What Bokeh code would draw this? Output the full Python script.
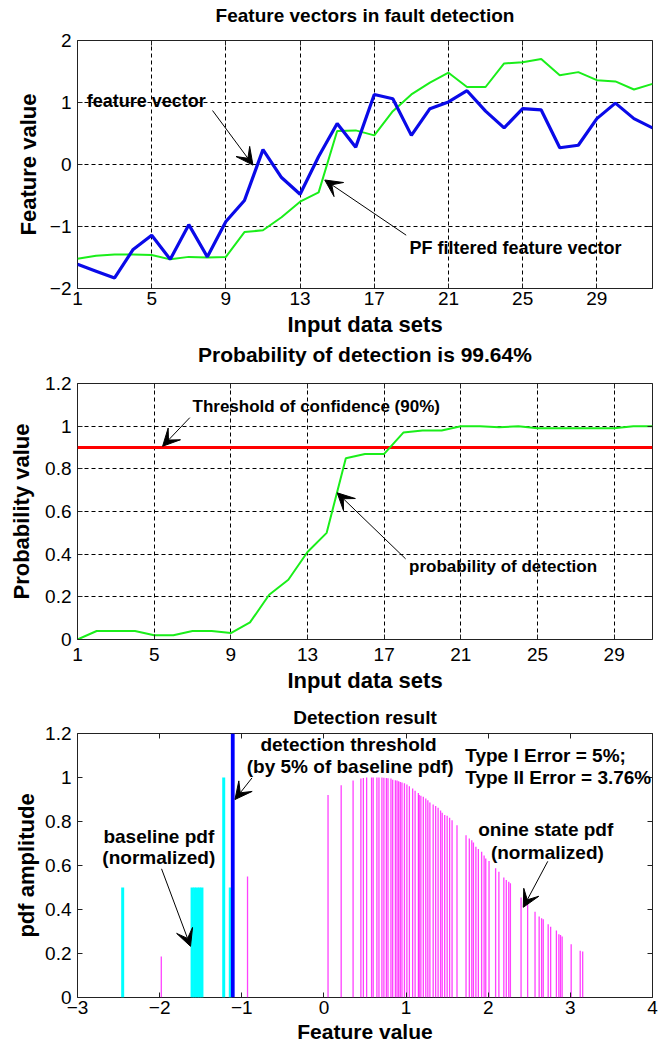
from bokeh.plotting import figure
from bokeh.layouts import column
from bokeh.models import FixedTicker, LinearAxis, Range1d, Arrow, VeeHead, Label
from bokeh.embed import file_html
from bokeh.resources import INLINE

# ---------------- data ----------------
# Panel 1: feature vectors
sets_1 = list(range(1, 33))
feature_vector = [-1.61, -1.72, -1.83, -1.37, -1.14, -1.53, -0.97, -1.49, -0.92, -0.58,
                  0.24, -0.21, -0.48, 0.13, 0.66, 0.28, 1.13, 1.06, 0.47, 0.90,
                  1.01, 1.19, 0.86, 0.59, 0.90, 0.88, 0.27, 0.31, 0.74, 0.99,
                  0.74, 0.59]
pf_filtered = [-1.52, -1.47, -1.45, -1.45, -1.46, -1.53, -1.49, -1.50, -1.49, -1.09,
               -1.06, -0.85, -0.60, -0.45, 0.54, 0.55, 0.47, 0.86, 1.13, 1.32,
               1.48, 1.25, 1.25, 1.63, 1.65, 1.70, 1.44, 1.49, 1.36, 1.34,
               1.21, 1.30]

# Panel 2: probability of detection
sets_2 = list(range(1, 32))
prob_detection = [0.00, 0.04, 0.04, 0.04, 0.02, 0.02, 0.04, 0.04, 0.03, 0.08,
                  0.21, 0.28, 0.41, 0.50, 0.85, 0.87, 0.87, 0.97, 0.98, 0.98,
                  1.00, 1.00, 0.995, 1.00, 0.99, 0.99, 0.99, 0.99, 0.99, 1.00,
                  1.00]
threshold_x = [1, 31]
threshold_conf = [0.9, 0.9]

# Panel 3: detection result
baseline_x = [-2.45, -1.605, -1.575, -1.545, -1.515, -1.485, -1.22, -1.14]
baseline_h = [0.5, 0.5, 0.5, 0.5, 0.5, 0.5, 1.0, 0.5]
online_x = [-1.98, -0.93, 0.05, 0.21, 0.355, 0.45, 0.48, 0.52, 0.58, 0.60, 0.645, 0.67,
            0.706, 0.73, 0.76, 0.78, 0.816, 0.837, 0.87, 0.89, 0.91, 0.93, 0.95,
            0.98, 1.01, 1.04, 1.08, 1.11, 1.15, 1.16, 1.18, 1.21, 1.24, 1.265,
            1.29, 1.33, 1.36, 1.39, 1.42, 1.44, 1.47, 1.50, 1.53, 1.56, 1.62,
            1.73, 1.77, 1.80, 1.82, 1.85, 1.88, 1.92, 1.95, 1.97, 2.01, 2.09,
            2.13, 2.19, 2.22, 2.25, 2.27, 2.40, 2.48, 2.57, 2.62, 2.65, 2.67,
            2.73, 2.76, 2.83, 2.86, 2.88, 2.90, 3.01, 3.12, 3.15]
online_h = [0.186, 0.55, 0.92, 0.965, 0.986, 0.995, 0.998, 1.0, 1.0, 1.0, 1.0, 1.0,
            1.0, 0.999, 0.998, 0.997, 0.995, 0.99, 0.988, 0.986, 0.983, 0.98, 0.977,
            0.974, 0.968, 0.96, 0.95, 0.94, 0.93, 0.92, 0.917, 0.912, 0.905, 0.897,
            0.886, 0.877, 0.87, 0.862, 0.85, 0.84, 0.83, 0.826, 0.817, 0.806, 0.783,
            0.738, 0.723, 0.715, 0.705, 0.685, 0.675, 0.663, 0.645, 0.632, 0.62, 0.587,
            0.572, 0.545, 0.534, 0.526, 0.519, 0.455, 0.428, 0.39, 0.368, 0.36, 0.356,
            0.333, 0.322, 0.304, 0.287, 0.284, 0.277, 0.242, 0.212, 0.209]
det_threshold_x = [-1.11, -1.11]
det_threshold_y = [0.0, 1.2]

ticks_sets = [1, 5, 9, 13, 17, 21, 25, 29]
ticks_feat = [-2, -1, 0, 1, 2]
ticks_prob = [0, 0.2, 0.4, 0.6, 0.8, 1.0, 1.2]
ticks_fx = [-3, -2, -1, 0, 1, 2, 3, 4]

titles = ["Feature vectors in fault detection",
          "Probability of detection is 99.64%",
          "Detection result"]

FONT = "Liberation Sans"
BLUE = "#0a0ae8"
GREEN = "#1aee1a"


def mirror_axis(t, title=None, size="19px", standoff=0):
    a = LinearAxis(ticker=FixedTicker(ticks=t), axis_line_color=None,
                   major_tick_in=5, major_tick_out=0,
                   major_tick_line_color="#222222",
                   minor_tick_line_color=None,
                   major_label_text_font_size="1px", major_label_text_color=None,
                   major_label_standoff=0)
    if title:
        a.axis_label = title
        a.axis_label_text_font = FONT
        a.axis_label_text_font_size = size
        a.axis_label_text_font_style = "bold"
        a.axis_label_text_color = "black"
        a.axis_label_standoff = standoff
    return a


def style(p, xt, yt, grid, xlabel, ylabel, xl_stand, xa_stand, ya_stand,
          title, title_size, title_standoff, xa_size="22px"):
    p.outline_line_color = "#222222"
    p.outline_line_width = 1
    p.xaxis.ticker = FixedTicker(ticks=xt)
    p.yaxis.ticker = FixedTicker(ticks=yt)
    p.xaxis.axis_label = xlabel
    p.yaxis.axis_label = ylabel
    for ax in (p.xaxis[0], p.yaxis[0]):
        ax.axis_line_color = None
        ax.major_tick_in = 5
        ax.major_tick_out = 0
        ax.minor_tick_line_color = None
        ax.major_tick_line_color = "#222222"
        ax.major_label_text_font = FONT
        ax.major_label_text_font_size = "19px"
        ax.major_label_text_color = "black"
        ax.axis_label_text_font = FONT
        ax.axis_label_text_font_size = "22px"
        ax.axis_label_text_font_style = "bold"
        ax.axis_label_text_color = "black"
    p.xaxis.axis_label_text_font_size = xa_size
    p.xaxis.major_label_standoff = xl_stand
    p.xaxis.axis_label_standoff = xa_stand
    p.yaxis.major_label_standoff = 6
    p.yaxis.axis_label_standoff = ya_stand
    # mirrored ticks; the top one carries the panel title
    p.add_layout(mirror_axis(yt), "right")
    p.add_layout(mirror_axis(xt, title, title_size, title_standoff), "above")
    if grid:
        p.xgrid.ticker = FixedTicker(ticks=xt)
        p.ygrid.ticker = FixedTicker(ticks=yt)
        for g in (p.xgrid[0], p.ygrid[0]):
            g.grid_line_color = "black"
            g.grid_line_dash = "4 3"
            g.grid_line_width = 1
    else:
        p.xgrid.grid_line_color = None
        p.ygrid.grid_line_color = None


def label(p, x, y, text, align="left", size="18px"):
    p.add_layout(Label(x=x, y=y, text=text, text_font=FONT, text_font_size=size,
                       text_font_style="bold", text_align=align,
                       text_baseline="middle", text_color="black"))


def arrow(p, x0, y0, x1, y1):
    p.add_layout(Arrow(end=VeeHead(size=17, fill_color="black", line_color="black"),
                       x_start=x0, y_start=y0, x_end=x1, y_end=y1,
                       line_color="black", line_width=1))


common = dict(output_backend="svg", toolbar_location=None, frame_width=575,
              min_border_left=77, min_border_right=6, background_fill_color="white",
              border_fill_color="white", title=None)

# ---------- panel 1 ----------
p1 = figure(frame_height=248, min_border_top=40, min_border_bottom=50,
            x_range=Range1d(1, 32), y_range=Range1d(-2, 2), **common)
style(p1, ticks_sets, ticks_feat, True, "Input data sets", "Feature value", 3, 4, 6,
      titles[0], "19px", 15)
p1.line(sets_1, pf_filtered, line_color=GREEN, line_width=2)
p1.line(sets_1, feature_vector, line_color=BLUE, line_width=3.2)
label(p1, 1.5, 1.02, "feature vector")
arrow(p1, 8.28, 0.87, 10.46, -0.01)
label(p1, 18.9, -1.34, "PF filtered feature vector")
arrow(p1, 18.72, -1.14, 14.33, -0.25)

# ---------- panel 2 ----------
p2 = figure(frame_height=256, min_border_top=43, min_border_bottom=64,
            x_range=Range1d(1, 31), y_range=Range1d(0, 1.2), **common)
style(p2, ticks_sets, ticks_prob, True, "Input data sets", "Probability value", 8, 4, 8,
      titles[1], "21px", 18)
p2.line(threshold_x, threshold_conf, line_color="#ff0000", line_width=3)
p2.line(sets_2, prob_detection, line_color=GREEN, line_width=2)
label(p2, 7.0, 1.094, "Threshold of confidence (90%)", size="17px")
arrow(p2, 6.86, 1.04, 5.44, 0.906)
label(p2, 18.3, 0.34, "probability of detection", size="17px")
arrow(p2, 18.12, 0.378, 14.55, 0.6875)

# ---------- panel 3 ----------
p3 = figure(frame_height=264, min_border_top=30, min_border_bottom=44,
            x_range=Range1d(-3, 4), y_range=Range1d(0, 1.2), **common)
style(p3, ticks_fx, ticks_prob, False, "Feature value", "pdf amplitude", 3, 3, 3,
      titles[2], "19px", 6, xa_size="21px")
p3.segment(x0=online_x, y0=[0] * len(online_x), x1=online_x, y1=online_h,
           line_color="#ff00ff", line_width=1.3, line_alpha=0.75)
p3.segment(x0=baseline_x, y0=[0] * len(baseline_x), x1=baseline_x, y1=baseline_h,
           line_color="#00ffff", line_width=3)
p3.line(det_threshold_x, det_threshold_y, line_color="#0000ff", line_width=3.8)
label(p3, 0.30, 1.15, "detection threshold", align="center", size="19px")
label(p3, 0.32, 1.05, "(by 5% of baseline pdf)", align="center", size="19px")
arrow(p3, -0.876, 0.998, -1.083, 0.90)
label(p3, 1.72, 1.10, "Type I Error = 5%;", size="19px")
label(p3, 1.72, 1.00, "Type II Error = 3.76%", size="19px")
label(p3, -2.01, 0.734, "baseline pdf", align="center", size="19px")
label(p3, -2.01, 0.638, "(normalized)", align="center", size="19px")
arrow(p3, -1.977, 0.585, -1.624, 0.2325)
label(p3, 2.70, 0.763, "onine state pdf", align="center", size="19px")
label(p3, 2.72, 0.661, "(normalized)", align="center", size="19px")
arrow(p3, 2.725, 0.619, 2.427, 0.41)

layout = column(p1, p2, p3, spacing=0)
open("out.html", "w").write(file_html(layout, INLINE))
